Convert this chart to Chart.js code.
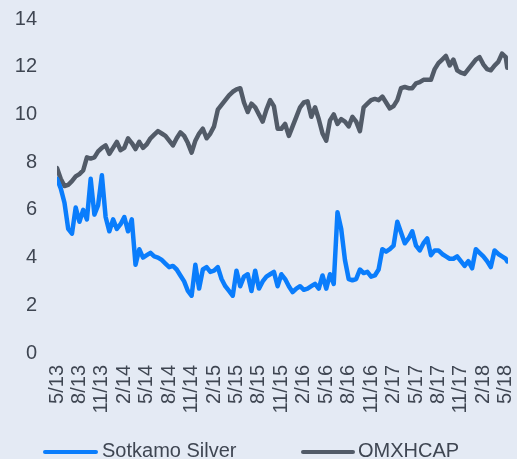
<!DOCTYPE html>
<html>
<head>
<meta charset="utf-8">
<script src="https://cdn.jsdelivr.net/npm/chart.js@4"></script>
<style>
  html, body { margin: 0; padding: 0; background: #e4eaf4; overflow: hidden; }
  #wrap { position: relative; width: 517px; height: 459px; }
  canvas { position: absolute; left: 0; top: 0; }
  .lg-bar { position: absolute; height: 4px; border-radius: 2px; }
  .lg-txt { position: absolute; font-family: "Liberation Sans", Arial, sans-serif; font-size: 20px; line-height: 20px; color: #3f4652; white-space: nowrap; }
</style>
</head>
<body>
<div id="wrap">
  <canvas id="c" width="517" height="459"></canvas>
  <div class="lg-bar" style="left:43px;top:450px;width:55px;background:#0a7dfc"></div>
  <div class="lg-txt" style="left:102px;top:440px">Sotkamo Silver</div>
  <div class="lg-bar" style="left:301px;top:450px;width:54px;background:#525b68"></div>
  <div class="lg-txt" style="left:358px;top:440px">OMXHCAP</div>
</div>
<script>
// x positions: months since May 2013 (half-month steps)
const months = [];
for (let k = 0; k <= 120; k++) months.push(k / 2);
months.push(60.2);

const tickMonths = [0,3,6,9,12,15,18,21,24,27,30,33,36,39,42,45,48,51,54,57,60];
const tickLabels = ["5/13","8/13","11/13","2/14","5/14","8/14","11/14","2/15","5/15","8/15","11/15","2/16","5/16","8/16","11/16","2/17","5/17","8/17","11/17","2/18","5/18"];

const sotkamo = [
  7.3,6.9,6.3,5.2,5.0,6.1,5.5,6.0,5.6,7.3,
  5.8,6.2,7.45,5.7,5.1,5.6,5.2,5.4,5.7,5.1,
  5.6,3.7,4.35,4.0,4.1,4.2,4.05,4.0,3.9,3.75,
  3.6,3.65,3.5,3.25,3.0,2.6,2.4,3.7,2.7,3.5,
  3.6,3.4,3.45,3.6,3.1,2.8,2.6,2.4,3.45,2.8,
  3.2,3.3,2.6,3.45,2.7,3.0,3.2,3.3,3.4,2.8,
  3.3,3.1,2.8,2.55,2.7,2.8,2.65,2.7,2.8,2.9,
  2.7,3.25,2.7,3.3,2.9,5.9,5.2,3.9,3.1,3.05,
  3.1,3.5,3.35,3.4,3.2,3.25,3.5,4.35,4.25,4.35,
  4.5,5.5,5.05,4.6,4.8,5.1,4.5,4.3,4.6,4.8,
  4.1,4.3,4.3,4.15,4.05,3.95,3.95,4.05,3.85,3.65,
  3.85,3.55,4.35,4.2,4.05,3.85,3.6,4.3,4.15,4.05,
  3.95,3.84
];

const omxhcap = [
  7.75,7.3,7.0,7.05,7.2,7.4,7.5,7.65,8.2,8.15,
  8.2,8.45,8.6,8.7,8.35,8.6,8.85,8.5,8.6,9.0,
  8.8,8.55,8.85,8.6,8.75,9.0,9.15,9.3,9.2,9.1,
  8.9,8.7,9.0,9.25,9.1,8.8,8.4,8.9,9.2,9.4,
  9.0,9.2,9.5,10.2,10.4,10.6,10.8,10.95,11.05,11.1,
  10.5,10.1,10.45,10.3,10.0,9.7,10.2,10.6,10.35,9.4,
  9.4,9.6,9.1,9.5,9.9,10.3,10.5,10.55,9.9,10.3,
  9.8,9.2,8.9,9.75,10.0,9.6,9.8,9.7,9.5,9.9,
  9.7,9.3,10.3,10.45,10.6,10.65,10.6,10.75,10.5,10.25,
  10.35,10.6,11.1,11.15,11.1,11.1,11.3,11.35,11.45,11.45,
  11.45,11.9,12.15,12.3,12.45,12.05,12.3,11.85,11.75,11.7,
  11.9,12.1,12.3,12.4,12.1,11.9,11.85,12.05,12.2,12.55,
  12.4,11.96
];

const yTicks = [0,2,4,6,8,10,12,14];

const textColor = '#3f4652';
const fontFamily = '"Liberation Sans", Arial, sans-serif';

function clearPad(s) { s.paddingTop = 0; s.paddingBottom = 0; s.paddingLeft = 0; s.paddingRight = 0; }

new Chart(document.getElementById('c'), {
  type: 'line',
  data: {
    datasets: [
      {
        label: 'Sotkamo Silver',
        data: months.map((m, i) => ({ x: m, y: sotkamo[i] })),
        borderColor: '#0a7dfc',
        backgroundColor: '#0a7dfc',
        borderWidth: 4.5,
        pointRadius: 0,
        tension: 0,
        borderCapStyle: 'round',
        borderJoinStyle: 'round'
      },
      {
        label: 'OMXHCAP',
        data: months.map((m, i) => ({ x: m, y: omxhcap[i] })),
        borderColor: '#525b68',
        backgroundColor: '#525b68',
        borderWidth: 4.5,
        pointRadius: 0,
        tension: 0,
        borderCapStyle: 'round',
        borderJoinStyle: 'round'
      }
    ]
  },
  options: {
    responsive: false,
    animation: false,
    events: [],
    layout: { padding: { top: 19, right: 9, bottom: 46, left: 0 } },
    plugins: { legend: { display: false }, tooltip: { enabled: false } },
    scales: {
      x: {
        type: 'linear',
        min: 0,
        max: 60.3,
        grid: { display: false, drawTicks: false },
        border: { display: false },
        afterBuildTicks: (s) => { s.ticks = tickMonths.map(v => ({ value: v })); },
        afterFit: (s) => { s.height = 60; clearPad(s); },
        ticks: {
          autoSkip: false,
          minRotation: 90,
          maxRotation: 90,
          padding: 12,
          color: textColor,
          font: { family: fontFamily, size: 20 },
          callback: (v, i) => tickLabels[i]
        }
      },
      y: {
        min: 0,
        max: 14,
        grid: { display: false, drawTicks: false },
        border: { display: false },
        afterBuildTicks: (s) => { s.ticks = yTicks.map(v => ({ value: v })); },
        afterFit: (s) => { s.width = 57; clearPad(s); },
        ticks: {
          padding: 20,
          color: textColor,
          font: { family: fontFamily, size: 20 }
        }
      }
    }
  }
});
</script>
</body>
</html>
